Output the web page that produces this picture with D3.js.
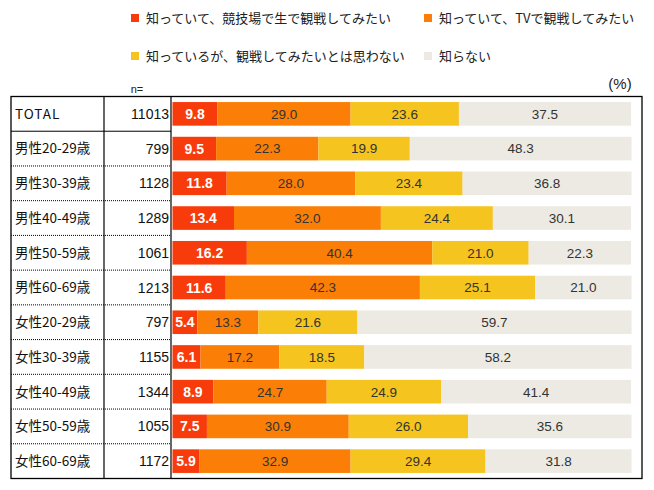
<!DOCTYPE html>
<html><head><meta charset="utf-8">
<script src="https://cdn.jsdelivr.net/npm/d3@7"></script>
<style>
body{margin:0;background:#fff;}
svg{display:block;}
</style>
</head><body>
<svg id="chart" width="654" height="490"></svg>
<script>
const categories = ["TOTAL","男性20-29歳","男性30-39歳","男性40-49歳","男性50-59歳","男性60-69歳","女性20-29歳","女性30-39歳","女性40-49歳","女性50-59歳","女性60-69歳"];
const nValues = [11013,799,1128,1289,1061,1213,797,1155,1344,1055,1172];
const seriesNames = ["知っていて、競技場で生で観戦してみたい","知っていて、TVで観戦してみたい","知っているが、観戦してみたいとは思わない","知らない"];
const liveWatch = [9.8,9.5,11.8,13.4,16.2,11.6,5.4,6.1,8.9,7.5,5.9];
const tvWatch = [29.0,22.3,28.0,32.0,40.4,42.3,13.3,17.2,24.7,30.9,32.9];
const notInterested = [23.6,19.9,23.4,24.4,21.0,25.1,21.6,18.5,24.9,26.0,29.4];
const unknown = [37.5,48.3,36.8,30.1,22.3,21.0,59.7,58.2,41.4,35.6,31.8];
const colors = ["#F83B0B","#FB7F06","#F5C41E","#ECEAE2"];

const svg = d3.select("#chart");
const tableLeft = 11, col1 = 104, col2 = 171, tableRight = 642, tableTop = 96.5, tableBottom = 478.5;
const x = d3.scaleLinear().domain([0,100]).range([172.5,631.5]);
const rows = d3.scaleBand().domain(categories).range([tableTop,tableBottom]).padding(0);
const y = d3.scaleBand().domain(categories).range([tableTop,tableBottom]).paddingInner(0.32).paddingOuter(0.16);

const series = [liveWatch,tvWatch,notInterested,unknown];
const jp = "'Noto Sans CJK JP','Noto Sans',sans-serif";
const num = "'Liberation Sans',Arial,sans-serif";

// Legend
const legendPos = [[131,18],[424,18],[131,56],[424,56]];
seriesNames.forEach((name,i)=>{
  const g = svg.append("g").attr("transform",`translate(${legendPos[i][0]},${legendPos[i][1]})`);
  g.append("rect").attr("x",0).attr("y",-4).attr("width",8).attr("height",8).attr("fill",colors[i]);
  g.append("text").attr("x",15).attr("y",0).attr("dy","0.35em").attr("font-family",jp).attr("font-size",13).attr("fill","#222").text(name);
});

svg.append("text").attr("x",620).attr("y",84).attr("text-anchor","middle").attr("dy","0.35em").attr("font-family",num).attr("font-size",15).attr("fill","#222").text("(%)");
svg.append("text").attr("x",137).attr("y",89).attr("text-anchor","middle").attr("dy","0.35em").attr("font-family",num).attr("font-size",11).attr("fill","#222").text("n=");

// Bars
categories.forEach((cat,ci)=>{
  let cum = 0;
  series.forEach((s,si)=>{
    const v = s[ci];
    const x0 = x(cum), x1 = x(cum+v);
    svg.append("rect").attr("x",x0).attr("y",y(cat)).attr("width",x1-x0).attr("height",y.bandwidth()).attr("fill",colors[si]);
    svg.append("text").attr("x",(x0+x1)/2).attr("y",y(cat)+y.bandwidth()/2).attr("dy","0.36em")
      .attr("text-anchor","middle").attr("font-family",num)
      .attr("font-size",si===0?14:13.5).attr("font-weight",si===0?"bold":"normal")
      .attr("fill",si===0?"#fff":"#333").text(v.toFixed(1));
    cum += v;
  });
});

// Table lines
categories.forEach((cat,ci)=>{
  if(ci>0){
    svg.append("line").attr("x1",tableLeft).attr("x2",col2).attr("y1",rows(cat)).attr("y2",rows(cat))
      .attr("stroke","#000").attr("stroke-width",1).attr("stroke-dasharray",ci===1?null:"1,1");
  }
  svg.append("text").attr("x",15).attr("y",rows(cat)+rows.bandwidth()/2).attr("dy","0.36em")
    .attr("font-family",jp).attr("font-size",13.5).attr("letter-spacing",ci===0?"1px":"0px").attr("fill","#111").text(cat);
  svg.append("text").attr("x",169).attr("y",rows(cat)+rows.bandwidth()/2).attr("dy","0.36em").attr("text-anchor","end")
    .attr("font-family",num).attr("font-size",14).attr("fill","#111").text(nValues[ci]);
});
svg.append("rect").attr("x",tableLeft).attr("y",tableTop).attr("width",tableRight-tableLeft).attr("height",tableBottom-tableTop)
  .attr("fill","none").attr("stroke","#000").attr("stroke-width",1.3);
[col1,col2].forEach(cx=>svg.append("line").attr("x1",cx).attr("x2",cx).attr("y1",tableTop).attr("y2",tableBottom).attr("stroke","#000").attr("stroke-width",1.2));
</script>
</body></html>
